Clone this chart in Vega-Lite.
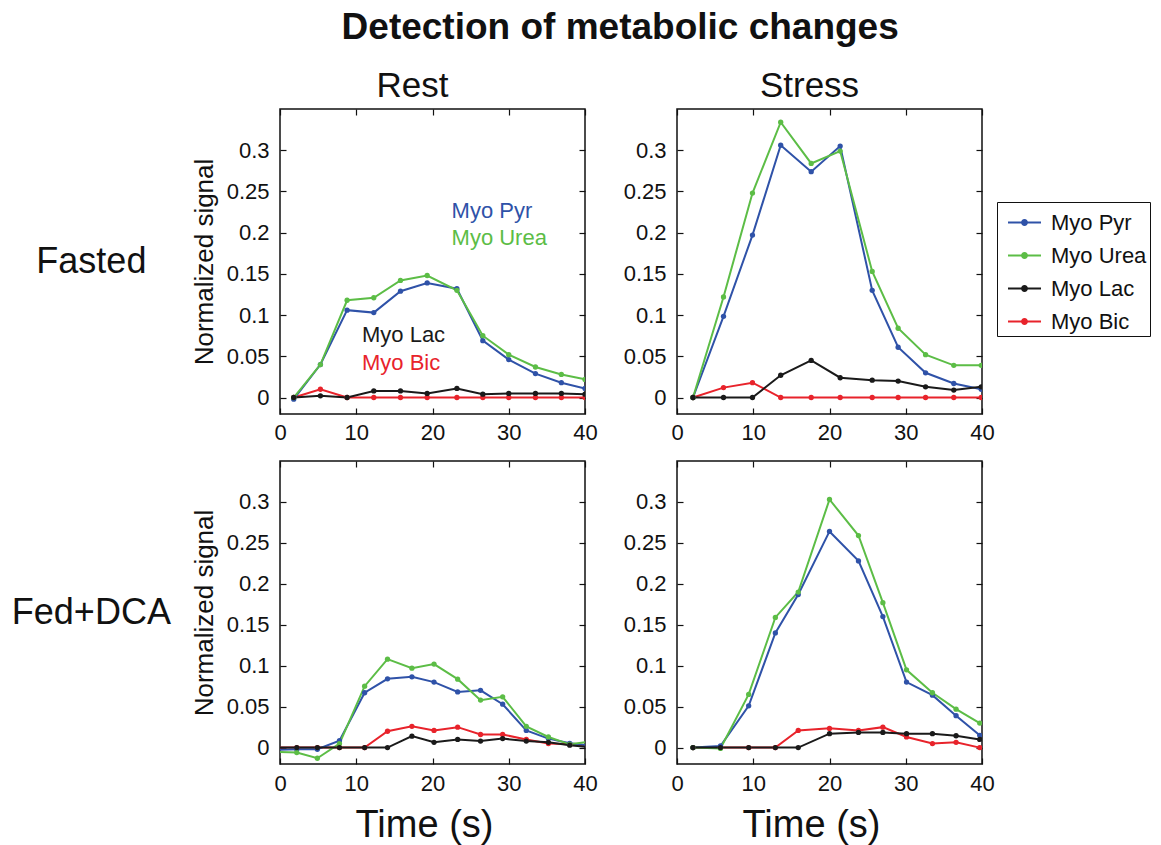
{
  "$schema": "https://vega.github.io/schema/vega-lite/v6.json",
  "padding": {"left": 11, "top": 8, "right": 0, "bottom": 0},
  "background": "white",
  "title": {"text": "Detection of metabolic changes", "fontSize": 37, "fontWeight": "bold", "anchor": "middle", "offset": 22, "dx": 39, "color": "#111"},
  "datasets": {
    "labels": [
      {"s": "Myo Pyr", "t": 22.5, "v": 0.226},
      {"s": "Myo Urea", "t": 22.5, "v": 0.193},
      {"s": "Myo Lac", "t": 10.75, "v": 0.076},
      {"s": "Myo Bic", "t": 10.75, "v": 0.0415}
    ],
    "series": [
      {"c":"Fasted","m":"Rest","s":"Myo Bic","t":1.8,"v":0},
      {"c":"Fasted","m":"Rest","s":"Myo Bic","t":5.3,"v":0.010},
      {"c":"Fasted","m":"Rest","s":"Myo Bic","t":8.8,"v":0},
      {"c":"Fasted","m":"Rest","s":"Myo Bic","t":12.3,"v":0},
      {"c":"Fasted","m":"Rest","s":"Myo Bic","t":15.8,"v":0},
      {"c":"Fasted","m":"Rest","s":"Myo Bic","t":19.3,"v":0},
      {"c":"Fasted","m":"Rest","s":"Myo Bic","t":23.2,"v":0},
      {"c":"Fasted","m":"Rest","s":"Myo Bic","t":26.6,"v":0},
      {"c":"Fasted","m":"Rest","s":"Myo Bic","t":30.0,"v":0},
      {"c":"Fasted","m":"Rest","s":"Myo Bic","t":33.5,"v":0},
      {"c":"Fasted","m":"Rest","s":"Myo Bic","t":36.9,"v":0},
      {"c":"Fasted","m":"Rest","s":"Myo Bic","t":40.0,"v":0},
      {"c":"Fasted","m":"Rest","s":"Myo Pyr","t":1.8,"v":-0.002},
      {"c":"Fasted","m":"Rest","s":"Myo Pyr","t":5.3,"v":0.040},
      {"c":"Fasted","m":"Rest","s":"Myo Pyr","t":8.8,"v":0.106},
      {"c":"Fasted","m":"Rest","s":"Myo Pyr","t":12.3,"v":0.103},
      {"c":"Fasted","m":"Rest","s":"Myo Pyr","t":15.8,"v":0.129},
      {"c":"Fasted","m":"Rest","s":"Myo Pyr","t":19.3,"v":0.139},
      {"c":"Fasted","m":"Rest","s":"Myo Pyr","t":23.2,"v":0.132},
      {"c":"Fasted","m":"Rest","s":"Myo Pyr","t":26.6,"v":0.069},
      {"c":"Fasted","m":"Rest","s":"Myo Pyr","t":30.0,"v":0.046},
      {"c":"Fasted","m":"Rest","s":"Myo Pyr","t":33.5,"v":0.029},
      {"c":"Fasted","m":"Rest","s":"Myo Pyr","t":36.9,"v":0.018},
      {"c":"Fasted","m":"Rest","s":"Myo Pyr","t":40.0,"v":0.011},
      {"c":"Fasted","m":"Rest","s":"Myo Urea","t":1.8,"v":0},
      {"c":"Fasted","m":"Rest","s":"Myo Urea","t":5.3,"v":0.040},
      {"c":"Fasted","m":"Rest","s":"Myo Urea","t":8.8,"v":0.118},
      {"c":"Fasted","m":"Rest","s":"Myo Urea","t":12.3,"v":0.121},
      {"c":"Fasted","m":"Rest","s":"Myo Urea","t":15.8,"v":0.142},
      {"c":"Fasted","m":"Rest","s":"Myo Urea","t":19.3,"v":0.148},
      {"c":"Fasted","m":"Rest","s":"Myo Urea","t":23.2,"v":0.130},
      {"c":"Fasted","m":"Rest","s":"Myo Urea","t":26.6,"v":0.075},
      {"c":"Fasted","m":"Rest","s":"Myo Urea","t":30.0,"v":0.052},
      {"c":"Fasted","m":"Rest","s":"Myo Urea","t":33.5,"v":0.037},
      {"c":"Fasted","m":"Rest","s":"Myo Urea","t":36.9,"v":0.028},
      {"c":"Fasted","m":"Rest","s":"Myo Urea","t":40.0,"v":0.022},
      {"c":"Fasted","m":"Rest","s":"Myo Lac","t":1.8,"v":0},
      {"c":"Fasted","m":"Rest","s":"Myo Lac","t":5.3,"v":0.002},
      {"c":"Fasted","m":"Rest","s":"Myo Lac","t":8.8,"v":0},
      {"c":"Fasted","m":"Rest","s":"Myo Lac","t":12.3,"v":0.008},
      {"c":"Fasted","m":"Rest","s":"Myo Lac","t":15.8,"v":0.008},
      {"c":"Fasted","m":"Rest","s":"Myo Lac","t":19.3,"v":0.005},
      {"c":"Fasted","m":"Rest","s":"Myo Lac","t":23.2,"v":0.011},
      {"c":"Fasted","m":"Rest","s":"Myo Lac","t":26.6,"v":0.004},
      {"c":"Fasted","m":"Rest","s":"Myo Lac","t":30.0,"v":0.005},
      {"c":"Fasted","m":"Rest","s":"Myo Lac","t":33.5,"v":0.005},
      {"c":"Fasted","m":"Rest","s":"Myo Lac","t":36.9,"v":0.005},
      {"c":"Fasted","m":"Rest","s":"Myo Lac","t":40.0,"v":0.004},

      {"c":"Fasted","m":"Stress","s":"Myo Bic","t":2.1,"v":0},
      {"c":"Fasted","m":"Stress","s":"Myo Bic","t":6.1,"v":0.012},
      {"c":"Fasted","m":"Stress","s":"Myo Bic","t":9.9,"v":0.018},
      {"c":"Fasted","m":"Stress","s":"Myo Bic","t":13.6,"v":0},
      {"c":"Fasted","m":"Stress","s":"Myo Bic","t":17.6,"v":0},
      {"c":"Fasted","m":"Stress","s":"Myo Bic","t":21.4,"v":0},
      {"c":"Fasted","m":"Stress","s":"Myo Bic","t":25.6,"v":0},
      {"c":"Fasted","m":"Stress","s":"Myo Bic","t":29.0,"v":0},
      {"c":"Fasted","m":"Stress","s":"Myo Bic","t":32.6,"v":0},
      {"c":"Fasted","m":"Stress","s":"Myo Bic","t":36.3,"v":0},
      {"c":"Fasted","m":"Stress","s":"Myo Bic","t":39.9,"v":0},
      {"c":"Fasted","m":"Stress","s":"Myo Pyr","t":2.1,"v":0},
      {"c":"Fasted","m":"Stress","s":"Myo Pyr","t":6.1,"v":0.0985},
      {"c":"Fasted","m":"Stress","s":"Myo Pyr","t":9.9,"v":0.197},
      {"c":"Fasted","m":"Stress","s":"Myo Pyr","t":13.6,"v":0.306},
      {"c":"Fasted","m":"Stress","s":"Myo Pyr","t":17.6,"v":0.274},
      {"c":"Fasted","m":"Stress","s":"Myo Pyr","t":21.4,"v":0.305},
      {"c":"Fasted","m":"Stress","s":"Myo Pyr","t":25.6,"v":0.130},
      {"c":"Fasted","m":"Stress","s":"Myo Pyr","t":29.0,"v":0.061},
      {"c":"Fasted","m":"Stress","s":"Myo Pyr","t":32.6,"v":0.030},
      {"c":"Fasted","m":"Stress","s":"Myo Pyr","t":36.3,"v":0.017},
      {"c":"Fasted","m":"Stress","s":"Myo Pyr","t":39.9,"v":0.010},
      {"c":"Fasted","m":"Stress","s":"Myo Urea","t":2.1,"v":0},
      {"c":"Fasted","m":"Stress","s":"Myo Urea","t":6.1,"v":0.122},
      {"c":"Fasted","m":"Stress","s":"Myo Urea","t":9.9,"v":0.248},
      {"c":"Fasted","m":"Stress","s":"Myo Urea","t":13.6,"v":0.334},
      {"c":"Fasted","m":"Stress","s":"Myo Urea","t":17.6,"v":0.284},
      {"c":"Fasted","m":"Stress","s":"Myo Urea","t":21.4,"v":0.299},
      {"c":"Fasted","m":"Stress","s":"Myo Urea","t":25.6,"v":0.153},
      {"c":"Fasted","m":"Stress","s":"Myo Urea","t":29.0,"v":0.084},
      {"c":"Fasted","m":"Stress","s":"Myo Urea","t":32.6,"v":0.052},
      {"c":"Fasted","m":"Stress","s":"Myo Urea","t":36.3,"v":0.039},
      {"c":"Fasted","m":"Stress","s":"Myo Urea","t":39.9,"v":0.039},
      {"c":"Fasted","m":"Stress","s":"Myo Lac","t":2.1,"v":0},
      {"c":"Fasted","m":"Stress","s":"Myo Lac","t":6.1,"v":0},
      {"c":"Fasted","m":"Stress","s":"Myo Lac","t":9.9,"v":0},
      {"c":"Fasted","m":"Stress","s":"Myo Lac","t":13.6,"v":0.027},
      {"c":"Fasted","m":"Stress","s":"Myo Lac","t":17.6,"v":0.045},
      {"c":"Fasted","m":"Stress","s":"Myo Lac","t":21.4,"v":0.024},
      {"c":"Fasted","m":"Stress","s":"Myo Lac","t":25.6,"v":0.021},
      {"c":"Fasted","m":"Stress","s":"Myo Lac","t":29.0,"v":0.020},
      {"c":"Fasted","m":"Stress","s":"Myo Lac","t":32.6,"v":0.013},
      {"c":"Fasted","m":"Stress","s":"Myo Lac","t":36.3,"v":0.009},
      {"c":"Fasted","m":"Stress","s":"Myo Lac","t":39.9,"v":0.013},

      {"c":"Fed","m":"Rest","s":"Myo Bic","t":-0.8,"v":0},
      {"c":"Fed","m":"Rest","s":"Myo Bic","t":2.2,"v":0},
      {"c":"Fed","m":"Rest","s":"Myo Bic","t":4.9,"v":0},
      {"c":"Fed","m":"Rest","s":"Myo Bic","t":7.8,"v":0},
      {"c":"Fed","m":"Rest","s":"Myo Bic","t":11.1,"v":0},
      {"c":"Fed","m":"Rest","s":"Myo Bic","t":14.1,"v":0.020},
      {"c":"Fed","m":"Rest","s":"Myo Bic","t":17.3,"v":0.026},
      {"c":"Fed","m":"Rest","s":"Myo Bic","t":20.2,"v":0.021},
      {"c":"Fed","m":"Rest","s":"Myo Bic","t":23.3,"v":0.025},
      {"c":"Fed","m":"Rest","s":"Myo Bic","t":26.3,"v":0.016},
      {"c":"Fed","m":"Rest","s":"Myo Bic","t":29.2,"v":0.016},
      {"c":"Fed","m":"Rest","s":"Myo Bic","t":32.3,"v":0.010},
      {"c":"Fed","m":"Rest","s":"Myo Bic","t":35.2,"v":0.005},
      {"c":"Fed","m":"Rest","s":"Myo Bic","t":38.0,"v":0.004},
      {"c":"Fed","m":"Rest","s":"Myo Bic","t":41.0,"v":0.001},
      {"c":"Fed","m":"Rest","s":"Myo Pyr","t":-0.8,"v":-0.003},
      {"c":"Fed","m":"Rest","s":"Myo Pyr","t":2.2,"v":-0.002},
      {"c":"Fed","m":"Rest","s":"Myo Pyr","t":4.9,"v":-0.002},
      {"c":"Fed","m":"Rest","s":"Myo Pyr","t":7.8,"v":0.0085},
      {"c":"Fed","m":"Rest","s":"Myo Pyr","t":11.1,"v":0.067},
      {"c":"Fed","m":"Rest","s":"Myo Pyr","t":14.1,"v":0.084},
      {"c":"Fed","m":"Rest","s":"Myo Pyr","t":17.3,"v":0.0865},
      {"c":"Fed","m":"Rest","s":"Myo Pyr","t":20.2,"v":0.080},
      {"c":"Fed","m":"Rest","s":"Myo Pyr","t":23.3,"v":0.068},
      {"c":"Fed","m":"Rest","s":"Myo Pyr","t":26.3,"v":0.070},
      {"c":"Fed","m":"Rest","s":"Myo Pyr","t":29.2,"v":0.053},
      {"c":"Fed","m":"Rest","s":"Myo Pyr","t":32.3,"v":0.021},
      {"c":"Fed","m":"Rest","s":"Myo Pyr","t":35.2,"v":0.011},
      {"c":"Fed","m":"Rest","s":"Myo Pyr","t":38.0,"v":0.0053},
      {"c":"Fed","m":"Rest","s":"Myo Pyr","t":41.0,"v":0.002},
      {"c":"Fed","m":"Rest","s":"Myo Urea","t":-0.8,"v":-0.005},
      {"c":"Fed","m":"Rest","s":"Myo Urea","t":2.2,"v":-0.006},
      {"c":"Fed","m":"Rest","s":"Myo Urea","t":4.9,"v":-0.013},
      {"c":"Fed","m":"Rest","s":"Myo Urea","t":7.8,"v":0.005},
      {"c":"Fed","m":"Rest","s":"Myo Urea","t":11.1,"v":0.075},
      {"c":"Fed","m":"Rest","s":"Myo Urea","t":14.1,"v":0.108},
      {"c":"Fed","m":"Rest","s":"Myo Urea","t":17.3,"v":0.097},
      {"c":"Fed","m":"Rest","s":"Myo Urea","t":20.2,"v":0.102},
      {"c":"Fed","m":"Rest","s":"Myo Urea","t":23.3,"v":0.0836},
      {"c":"Fed","m":"Rest","s":"Myo Urea","t":26.3,"v":0.058},
      {"c":"Fed","m":"Rest","s":"Myo Urea","t":29.2,"v":0.062},
      {"c":"Fed","m":"Rest","s":"Myo Urea","t":32.3,"v":0.026},
      {"c":"Fed","m":"Rest","s":"Myo Urea","t":35.2,"v":0.013},
      {"c":"Fed","m":"Rest","s":"Myo Urea","t":38.0,"v":0.004},
      {"c":"Fed","m":"Rest","s":"Myo Urea","t":41.0,"v":0.008},
      {"c":"Fed","m":"Rest","s":"Myo Lac","t":-0.8,"v":0},
      {"c":"Fed","m":"Rest","s":"Myo Lac","t":2.2,"v":0},
      {"c":"Fed","m":"Rest","s":"Myo Lac","t":4.9,"v":0},
      {"c":"Fed","m":"Rest","s":"Myo Lac","t":7.8,"v":0},
      {"c":"Fed","m":"Rest","s":"Myo Lac","t":11.1,"v":0},
      {"c":"Fed","m":"Rest","s":"Myo Lac","t":14.1,"v":0},
      {"c":"Fed","m":"Rest","s":"Myo Lac","t":17.3,"v":0.014},
      {"c":"Fed","m":"Rest","s":"Myo Lac","t":20.2,"v":0.0065},
      {"c":"Fed","m":"Rest","s":"Myo Lac","t":23.3,"v":0.010},
      {"c":"Fed","m":"Rest","s":"Myo Lac","t":26.3,"v":0.008},
      {"c":"Fed","m":"Rest","s":"Myo Lac","t":29.2,"v":0.011},
      {"c":"Fed","m":"Rest","s":"Myo Lac","t":32.3,"v":0.008},
      {"c":"Fed","m":"Rest","s":"Myo Lac","t":35.2,"v":0.0065},
      {"c":"Fed","m":"Rest","s":"Myo Lac","t":38.0,"v":0.003},
      {"c":"Fed","m":"Rest","s":"Myo Lac","t":41.0,"v":0},

      {"c":"Fed","m":"Stress","s":"Myo Bic","t":2.1,"v":0},
      {"c":"Fed","m":"Stress","s":"Myo Bic","t":5.7,"v":0},
      {"c":"Fed","m":"Stress","s":"Myo Bic","t":9.4,"v":0},
      {"c":"Fed","m":"Stress","s":"Myo Bic","t":12.9,"v":0},
      {"c":"Fed","m":"Stress","s":"Myo Bic","t":15.9,"v":0.021},
      {"c":"Fed","m":"Stress","s":"Myo Bic","t":20.0,"v":0.0235},
      {"c":"Fed","m":"Stress","s":"Myo Bic","t":23.8,"v":0.021},
      {"c":"Fed","m":"Stress","s":"Myo Bic","t":27.0,"v":0.025},
      {"c":"Fed","m":"Stress","s":"Myo Bic","t":30.1,"v":0.013},
      {"c":"Fed","m":"Stress","s":"Myo Bic","t":33.5,"v":0.005},
      {"c":"Fed","m":"Stress","s":"Myo Bic","t":36.6,"v":0.0065},
      {"c":"Fed","m":"Stress","s":"Myo Bic","t":39.7,"v":0},
      {"c":"Fed","m":"Stress","s":"Myo Pyr","t":2.1,"v":0},
      {"c":"Fed","m":"Stress","s":"Myo Pyr","t":5.7,"v":0.002},
      {"c":"Fed","m":"Stress","s":"Myo Pyr","t":9.4,"v":0.051},
      {"c":"Fed","m":"Stress","s":"Myo Pyr","t":12.9,"v":0.140},
      {"c":"Fed","m":"Stress","s":"Myo Pyr","t":15.9,"v":0.187},
      {"c":"Fed","m":"Stress","s":"Myo Pyr","t":20.0,"v":0.264},
      {"c":"Fed","m":"Stress","s":"Myo Pyr","t":23.8,"v":0.228},
      {"c":"Fed","m":"Stress","s":"Myo Pyr","t":27.0,"v":0.160},
      {"c":"Fed","m":"Stress","s":"Myo Pyr","t":30.1,"v":0.080},
      {"c":"Fed","m":"Stress","s":"Myo Pyr","t":33.5,"v":0.064},
      {"c":"Fed","m":"Stress","s":"Myo Pyr","t":36.6,"v":0.039},
      {"c":"Fed","m":"Stress","s":"Myo Pyr","t":39.7,"v":0.015},
      {"c":"Fed","m":"Stress","s":"Myo Urea","t":2.1,"v":0},
      {"c":"Fed","m":"Stress","s":"Myo Urea","t":5.7,"v":-0.001},
      {"c":"Fed","m":"Stress","s":"Myo Urea","t":9.4,"v":0.065},
      {"c":"Fed","m":"Stress","s":"Myo Urea","t":12.9,"v":0.159},
      {"c":"Fed","m":"Stress","s":"Myo Urea","t":15.9,"v":0.190},
      {"c":"Fed","m":"Stress","s":"Myo Urea","t":20.0,"v":0.303},
      {"c":"Fed","m":"Stress","s":"Myo Urea","t":23.8,"v":0.259},
      {"c":"Fed","m":"Stress","s":"Myo Urea","t":27.0,"v":0.177},
      {"c":"Fed","m":"Stress","s":"Myo Urea","t":30.1,"v":0.095},
      {"c":"Fed","m":"Stress","s":"Myo Urea","t":33.5,"v":0.067},
      {"c":"Fed","m":"Stress","s":"Myo Urea","t":36.6,"v":0.047},
      {"c":"Fed","m":"Stress","s":"Myo Urea","t":39.7,"v":0.030},
      {"c":"Fed","m":"Stress","s":"Myo Lac","t":2.1,"v":0},
      {"c":"Fed","m":"Stress","s":"Myo Lac","t":5.7,"v":0},
      {"c":"Fed","m":"Stress","s":"Myo Lac","t":9.4,"v":0},
      {"c":"Fed","m":"Stress","s":"Myo Lac","t":12.9,"v":0},
      {"c":"Fed","m":"Stress","s":"Myo Lac","t":15.9,"v":0},
      {"c":"Fed","m":"Stress","s":"Myo Lac","t":20.0,"v":0.017},
      {"c":"Fed","m":"Stress","s":"Myo Lac","t":23.8,"v":0.0186},
      {"c":"Fed","m":"Stress","s":"Myo Lac","t":27.0,"v":0.0186},
      {"c":"Fed","m":"Stress","s":"Myo Lac","t":30.1,"v":0.017},
      {"c":"Fed","m":"Stress","s":"Myo Lac","t":33.5,"v":0.017},
      {"c":"Fed","m":"Stress","s":"Myo Lac","t":36.6,"v":0.0145},
      {"c":"Fed","m":"Stress","s":"Myo Lac","t":39.7,"v":0.010}
    ]
  },
  "vconcat": [
    {
      "title": {"text": "Fasted", "orient": "left", "angle": 0, "anchor": "middle", "fontSize": 36, "fontWeight": "normal", "baseline": "middle", "align": "center", "offset": -11, "dy": 6},
      "bounds": "flush",
      "spacing": 92,
      "hconcat": [
        {
          "width": 305, "height": 305,
          "title": {"text": "Rest", "fontSize": 35, "fontWeight": "normal", "offset": 4, "dx": -20},
          "layer": [
            {
              "data": {"name": "series"},
              "transform": [{"filter": "datum.c === 'Fasted' && datum.m === 'Rest'"}],
              "mark": {"type": "line", "strokeWidth": 2, "clip": true},
              "encoding": {
                "x": {"field": "t", "type": "quantitative", "scale": {"domain": [0, 40], "nice": false, "zero": false}, "axis": {"values": [0, 10, 20, 30, 40], "title": null, "labelPadding": 14}},
                "y": {"field": "v", "type": "quantitative", "scale": {"domain": [-0.02, 0.35], "nice": false, "zero": false}, "axis": {"values": [0, 0.05, 0.1, 0.15, 0.2, 0.25, 0.3], "format": "~g", "title": "Normalized signal"}},
                "color": {"field": "s", "type": "nominal", "scale": {"domain": ["Myo Pyr", "Myo Urea", "Myo Lac", "Myo Bic"], "range": ["#2f52a8", "#5cbd46", "#1a1a1a", "#e8232b"]}, "legend": {"labelFontSize": 22, "labelOffset": 9, "padding": 3, "symbolOffset": 7, "symbolSize": 1089, "rowPadding": 4}}
              }
            },
            {
              "data": {"name": "series"},
              "transform": [{"filter": "datum.c === 'Fasted' && datum.m === 'Rest'"}],
              "mark": {"type": "point", "filled": true, "size": 28, "opacity": 1, "clip": true},
              "encoding": {
                "x": {"field": "t", "type": "quantitative", "scale": {"domain": [0, 40], "nice": false, "zero": false}, "axis": {"orient": "top", "values": [0, 10, 20, 30, 40], "labels": false, "title": null}},
                "y": {"field": "v", "type": "quantitative", "scale": {"domain": [-0.02, 0.35], "nice": false, "zero": false}, "axis": {"orient": "right", "values": [0, 0.05, 0.1, 0.15, 0.2, 0.25, 0.3], "labels": false, "title": null}},
                "color": {"field": "s", "type": "nominal"}
              }
            },
            {
              "data": {"name": "labels"},
              "mark": {"type": "text", "align": "left", "baseline": "middle", "fontSize": 22},
              "encoding": {
                "x": {"field": "t", "type": "quantitative", "scale": {"domain": [0, 40], "nice": false, "zero": false}, "axis": null},
                "y": {"field": "v", "type": "quantitative", "scale": {"domain": [-0.02, 0.35], "nice": false, "zero": false}, "axis": null},
                "text": {"field": "s"},
                "color": {"field": "s", "type": "nominal"}
              }
            }
          ],
          "resolve": {"scale": {"x": "independent", "y": "independent"}}
        },
        {
          "width": 305, "height": 305,
          "title": {"text": "Stress", "fontSize": 35, "fontWeight": "normal", "offset": 4, "dx": -20},
          "layer": [
            {
              "data": {"name": "series"},
              "transform": [{"filter": "datum.c === 'Fasted' && datum.m === 'Stress'"}],
              "mark": {"type": "line", "strokeWidth": 2, "clip": true},
              "encoding": {
                "x": {"field": "t", "type": "quantitative", "scale": {"domain": [0, 40], "nice": false, "zero": false}, "axis": {"values": [0, 10, 20, 30, 40], "title": null, "labelPadding": 14}},
                "y": {"field": "v", "type": "quantitative", "scale": {"domain": [-0.02, 0.35], "nice": false, "zero": false}, "axis": {"values": [0, 0.05, 0.1, 0.15, 0.2, 0.25, 0.3], "format": "~g", "title": null}},
                "color": {"field": "s", "type": "nominal"}
              }
            },
            {
              "data": {"name": "series"},
              "transform": [{"filter": "datum.c === 'Fasted' && datum.m === 'Stress'"}],
              "mark": {"type": "point", "filled": true, "size": 28, "opacity": 1, "clip": true},
              "encoding": {
                "x": {"field": "t", "type": "quantitative", "scale": {"domain": [0, 40], "nice": false, "zero": false}, "axis": {"orient": "top", "values": [0, 10, 20, 30, 40], "labels": false, "title": null}},
                "y": {"field": "v", "type": "quantitative", "scale": {"domain": [-0.02, 0.35], "nice": false, "zero": false}, "axis": {"orient": "right", "values": [0, 0.05, 0.1, 0.15, 0.2, 0.25, 0.3], "labels": false, "title": null}},
                "color": {"field": "s", "type": "nominal"}
              }
            }
          ],
          "resolve": {"scale": {"x": "independent", "y": "independent"}}
        }
      ]
    },
    {
      "title": {"text": "Fed+DCA", "orient": "left", "angle": 0, "anchor": "middle", "fontSize": 36, "fontWeight": "normal", "baseline": "middle", "align": "center", "offset": -60, "dy": -39},
      "bounds": "flush",
      "spacing": 92,
      "hconcat": [
        {
          "width": 305, "height": 303,
          "layer": [
            {
              "data": {"name": "series"},
              "transform": [{"filter": "datum.c === 'Fed' && datum.m === 'Rest'"}],
              "mark": {"type": "line", "strokeWidth": 2, "clip": true},
              "encoding": {
                "x": {"field": "t", "type": "quantitative", "scale": {"domain": [0, 40], "nice": false, "zero": false}, "axis": {"values": [0, 10, 20, 30, 40], "title": "Time (s)", "titleX": 144}},
                "y": {"field": "v", "type": "quantitative", "scale": {"domain": [-0.02, 0.35], "nice": false, "zero": false}, "axis": {"values": [0, 0.05, 0.1, 0.15, 0.2, 0.25, 0.3], "format": "~g", "title": "Normalized signal"}},
                "color": {"field": "s", "type": "nominal"}
              }
            },
            {
              "data": {"name": "series"},
              "transform": [{"filter": "datum.c === 'Fed' && datum.m === 'Rest'"}],
              "mark": {"type": "point", "filled": true, "size": 28, "opacity": 1, "clip": true},
              "encoding": {
                "x": {"field": "t", "type": "quantitative", "scale": {"domain": [0, 40], "nice": false, "zero": false}, "axis": {"orient": "top", "values": [0, 10, 20, 30, 40], "labels": false, "title": null}},
                "y": {"field": "v", "type": "quantitative", "scale": {"domain": [-0.02, 0.35], "nice": false, "zero": false}, "axis": {"orient": "right", "values": [0, 0.05, 0.1, 0.15, 0.2, 0.25, 0.3], "labels": false, "title": null}},
                "color": {"field": "s", "type": "nominal"}
              }
            }
          ],
          "resolve": {"scale": {"x": "independent", "y": "independent"}}
        },
        {
          "width": 305, "height": 303,
          "layer": [
            {
              "data": {"name": "series"},
              "transform": [{"filter": "datum.c === 'Fed' && datum.m === 'Stress'"}],
              "mark": {"type": "line", "strokeWidth": 2, "clip": true},
              "encoding": {
                "x": {"field": "t", "type": "quantitative", "scale": {"domain": [0, 40], "nice": false, "zero": false}, "axis": {"values": [0, 10, 20, 30, 40], "title": "Time (s)", "titleX": 134}},
                "y": {"field": "v", "type": "quantitative", "scale": {"domain": [-0.02, 0.35], "nice": false, "zero": false}, "axis": {"values": [0, 0.05, 0.1, 0.15, 0.2, 0.25, 0.3], "format": "~g", "title": null}},
                "color": {"field": "s", "type": "nominal"}
              }
            },
            {
              "data": {"name": "series"},
              "transform": [{"filter": "datum.c === 'Fed' && datum.m === 'Stress'"}],
              "mark": {"type": "point", "filled": true, "size": 28, "opacity": 1, "clip": true},
              "encoding": {
                "x": {"field": "t", "type": "quantitative", "scale": {"domain": [0, 40], "nice": false, "zero": false}, "axis": {"orient": "top", "values": [0, 10, 20, 30, 40], "labels": false, "title": null}},
                "y": {"field": "v", "type": "quantitative", "scale": {"domain": [-0.02, 0.35], "nice": false, "zero": false}, "axis": {"orient": "right", "values": [0, 0.05, 0.1, 0.15, 0.2, 0.25, 0.3], "labels": false, "title": null}},
                "color": {"field": "s", "type": "nominal"}
              }
            }
          ],
          "resolve": {"scale": {"x": "independent", "y": "independent"}}
        }
      ]
    }
  ],
  "spacing": 15,
  "config": {
    "font": "Liberation Sans",
    "view": {"stroke": "#111", "strokeWidth": 1.5},
    "axis": {
      "domain": false, "grid": false,
      "tickSize": -6, "tickColor": "#111", "tickWidth": 1.2,
      "labelFontSize": 22, "labelColor": "#111", "labelFlush": false, "labelOverlap": false,
      "titleFontWeight": "normal", "titleColor": "#111"
    },
    "axisX": {"labelPadding": 15, "titleFontSize": 38, "titlePadding": 12},
    "axisY": {"labelPadding": 17, "titleFontSize": 26, "titlePadding": 9},
    "title": {"color": "#111", "font": "Liberation Sans"},
    "legend": {
      "orient": "none", "legendX": 717, "legendY": 93,
      "title": null, "strokeColor": "#111", "fillColor": "white", "padding": 3,
      "labelFontSize": 22, "labelColor": "#111", "labelOffset": 9,
      "symbolType": "M-1,0L1,0M-0.15,0A0.15,0.15,0,1,0,0.15,0A0.15,0.15,0,1,0,-0.15,0",
      "symbolSize": 1089, "symbolStrokeWidth": 2, "rowPadding": 4
    }
  }
}
